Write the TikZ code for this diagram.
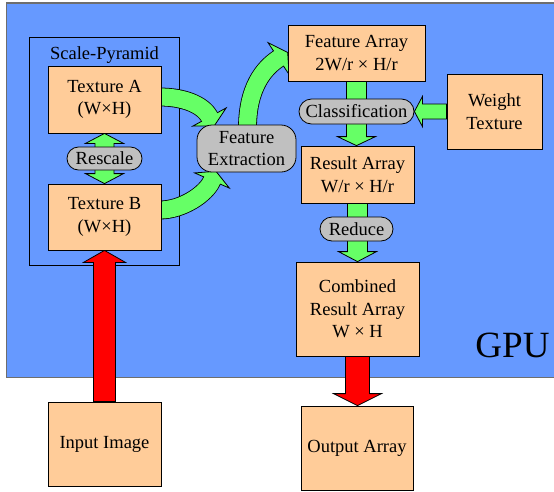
\documentclass[tikz,border=0pt]{standalone}
\usepackage{fontspec}
\setmainfont{Liberation Serif}
\usetikzlibrary{calc}

\definecolor{gpublue}{HTML}{6699FF}
\definecolor{boxorange}{HTML}{FFCC99}
\definecolor{flowgreen}{HTML}{66FF66}
\definecolor{procgray}{HTML}{C0C0C0}
\definecolor{datared}{HTML}{FF0000}
\definecolor{panelline}{HTML}{6E6E6E}

\pgfdeclarelayer{backdrop}
\pgfdeclarelayer{flow}
\pgfsetlayers{backdrop,flow,main}

% vertical block arrow: style, from anchor, to anchor, half shaft, half head, signed head length
\newcommand\vfat[6]{%
  \coordinate (vf-s) at (#2);
  \coordinate (vf-t) at (#2 |- #3);
  \filldraw[#1] ($(vf-s)+({-(#4)},0)$) -- ($(vf-t)+({-(#4)},{-(#6)})$)
    -- ($(vf-t)+({-(#5)},{-(#6)})$) -- (vf-t) -- ($(vf-t)+(#5,{-(#6)})$)
    -- ($(vf-t)+(#4,{-(#6)})$) -- ($(vf-s)+(#4,0)$) -- cycle;}

% horizontal block arrow: style, from anchor, to anchor, half shaft, half head, signed head length
\newcommand\hfat[6]{%
  \coordinate (hf-s) at (#2);
  \coordinate (hf-t) at (#3 |- #2);
  \filldraw[#1] ($(hf-s)+(0,{-(#4)})$) -- ($(hf-t)+({-(#6)},{-(#4)})$)
    -- ($(hf-t)+({-(#6)},{-(#5)})$) -- (hf-t) -- ($(hf-t)+({-(#6)},#5)$)
    -- ($(hf-t)+({-(#6)},#4)$) -- ($(hf-s)+(0,#4)$) -- cycle;}

% curved block arrow: centre line of the shaft, head triangle
\newcommand\cfat[2]{%
  \draw[line width=18.8pt, black] #1;
  \filldraw[fill=flowgreen, draw=black, line width=0.8pt] #2;
  \draw[line width=17.2pt, flowgreen] #1;}

\tikzset{
  txt/.style={font=\fontsize{18.5}{22.5}\selectfont, align=center},
  box/.style={txt, draw=black, fill=boxorange, line width=0.8pt, inner sep=0pt},
  proc/.style={txt, draw=black, fill=procgray, line width=0.8pt, inner sep=0pt},
  greenarrow/.style={fill=flowgreen, draw=black, line width=0.8pt},
  redarrow/.style={fill=datared, draw=black, line width=0.8pt},
}

\begin{document}
\begin{tikzpicture}[x=1pt, y=-1pt]
\useasboundingbox (0,0) rectangle (554,491);

% storage boxes
\node[box, minimum width=113, minimum height=67] (ta) at (104.5,99.5) {Texture A\\(W×H)};
\node[box, minimum width=113, minimum height=66] (tb) at (104.5,217) {Texture B\\(W×H)};
\node[box, minimum width=137, minimum height=56] (fa) at (356.5,53) {Feature Array\\2W/r × H/r};
\node[box, minimum width=95, minimum height=75] (wt) at (494.5,111.5) {Weight\\Texture};
\node[box, minimum width=113, minimum height=57] (ra) at (357.5,174.5) {Result Array\\W/r × H/r};
\node[box, minimum width=123, minimum height=94] (cra) at (357.5,309) {Combined\\Result Array\\W × H};
\node[box, minimum width=113, minimum height=84] (ii) at (104.5,444) {Input Image};
\node[box, minimum width=112, minimum height=84] (oa) at (357,448) {Output Array};

% processing steps
\node[proc, rounded corners=11.5pt, minimum width=75, minimum height=23] (rs) at (104.5,158.5) {Rescale};
\node[proc, rounded corners=15pt, minimum width=99, minimum height=47] (fe) at (246.5,148.5) {Feature\\Extraction};
\node[proc, rounded corners=12.5pt, minimum width=115, minimum height=25] (cls) at (356.5,111.5) {Classification};
\node[proc, rounded corners=12pt, minimum width=73, minimum height=24] (rd) at (356.5,229) {Reduce};

% labels
\node[txt, anchor=base] (sp) at (104.5,59.5) {Scale-Pyramid};
\node[font=\fontsize{37}{40}\selectfont, anchor=base, inner sep=0pt] (gpu) at (512.5,357) {GPU};

% GPU area and pyramid frame
\begin{pgfonlayer}{backdrop}
  \fill[white] (0,0) rectangle (554,491);
  \draw[panelline, line width=1.6pt, fill=gpublue] (6.5,3) rectangle (562,377.5);
  \draw[black, line width=0.8pt] (29,37) rectangle (179,265);
\end{pgfonlayer}

% data flow
\begin{pgfonlayer}{flow}
  % rescale between the pyramid levels
  \coordinate (r1) at (ta.south);
  \coordinate (r2) at (ta.south |- tb.north);
  \filldraw[greenarrow] (r1) -- ($(r1)+(19,10)$) -- ($(r1)+(9.5,10)$) -- ($(r2)+(9.5,-10)$)
    -- ($(r2)+(19,-10)$) -- (r2) -- ($(r2)+(-19,-10)$) -- ($(r2)+(-9.5,-10)$)
    -- ($(r1)+(-9.5,10)$) -- ($(r1)+(-19,10)$) -- cycle;

  % pyramid levels into feature extraction
  \cfat{(160,97) .. controls (182,97) and (202.3,103.8) .. (209.5,117) -- (210.2,118.3)}
       {(226.2,107.9) -- (214.3,125.8) -- (192.8,126.1) -- cycle}
  \cfat{(160,210) .. controls (182,210) and (206,194.3) .. (212,180.5) -- (212.6,179.1)}
       {(229.4,188.1) -- (216,171.3) -- (194.6,172.9) -- cycle}
  % feature extraction into the feature array
  \cfat{(247.5,128) .. controls (247.5,88) and (263.5,68.4) .. (278.5,58.5) -- (279.75,57.7)}
       {(289,74.4) -- (287.7,52.5) -- (268,42.6) -- cycle}

  % classification and reduction chain
  \vfat{greenarrow}{fa.south}{ra.north}{10}{19}{9}
  \vfat{greenarrow}{ra.south}{cra.north}{10}{19}{10}
  \hfat{greenarrow}{wt.west}{cls.east}{7.5}{15}{-8}

  % input and output transfers
  \vfat{redarrow}{ii.north}{tb.south}{11}{21}{-12}
  \vfat{redarrow}{cra.south}{oa.north}{12}{24}{12}
\end{pgfonlayer}
\end{tikzpicture}
\end{document}
